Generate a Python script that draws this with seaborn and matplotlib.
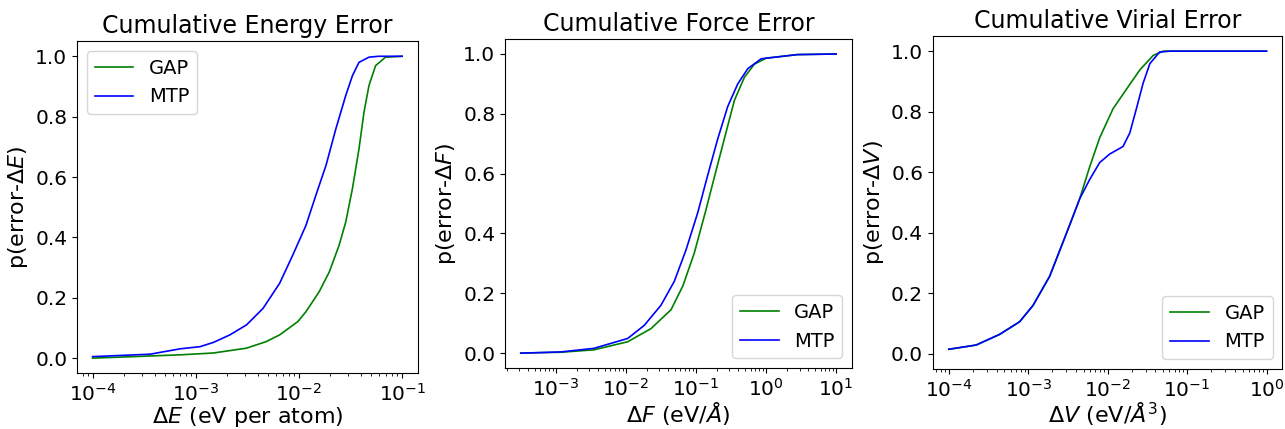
"""
cumulative error curves, GAP vs MTP (energy, force, virial)
"""

import numpy as np
import pandas as pd
import seaborn as sns
import matplotlib
matplotlib.use("Agg")
import matplotlib.pyplot as plt

# ---- energy (eV per atom)
e_gap_x = [1e-4, 2.5e-4, 7.1e-4, 1.48e-3, 3.1e-3, 4.83e-3, 6.5e-3, 9.75e-3, 1.17e-2,
           1.57e-2, 1.97e-2, 2.45e-2, 2.84e-2, 3.3e-2, 3.82e-2, 4.27e-2, 4.77e-2,
           5.53e-2, 6.9e-2, 1e-1]
e_gap_y = [0.0, 0.005, 0.011, 0.017, 0.033, 0.055, 0.077, 0.121, 0.154,
           0.22, 0.286, 0.374, 0.451, 0.562, 0.694, 0.815, 0.903,
           0.969, 0.997, 1.0]
e_mtp_x = [1e-4, 3.6e-4, 7.1e-4, 1.1e-3, 1.48e-3, 2.14e-3, 3.1e-3, 4.49e-3, 6.5e-3,
           8.7e-3, 1.17e-2, 1.46e-2, 1.83e-2, 2.28e-2, 2.84e-2, 3.3e-2, 3.82e-2,
           4.77e-2, 5.9e-2, 1e-1]
e_mtp_y = [0.005, 0.013, 0.031, 0.038, 0.052, 0.077, 0.11, 0.165, 0.248,
           0.341, 0.44, 0.54, 0.639, 0.76, 0.87, 0.936, 0.98,
           0.997, 1.0, 1.0]

# ---- force (eV/A)
f_gap_x = [3.16e-4, 1.18e-3, 3.5e-3, 1.06e-2, 2.28e-2, 4.4e-2, 6.5e-2, 9.46e-2, 0.139,
           0.193, 0.268, 0.353, 0.49, 0.68, 1.0, 2.8, 10.0]
f_gap_y = [0.0, 0.003, 0.011, 0.038, 0.082, 0.145, 0.225, 0.335, 0.48,
           0.61, 0.738, 0.845, 0.922, 0.966, 0.986, 0.998, 1.0]
f_mtp_x = [3.16e-4, 1.18e-3, 3.5e-3, 1.06e-2, 1.83e-2, 3.16e-2, 4.9e-2, 7.2e-2, 0.106,
           0.147, 0.204, 0.284, 0.394, 0.548, 0.85, 2.8, 10.0]
f_mtp_y = [0.0, 0.004, 0.016, 0.049, 0.093, 0.16, 0.24, 0.345, 0.47,
           0.595, 0.716, 0.825, 0.90, 0.951, 0.984, 0.998, 1.0]

# ---- virial (eV/A^3)
v_gap_x = [1e-4, 2.21e-4, 4.35e-4, 7.8e-4, 1.15e-3, 1.86e-3, 2.49e-3, 3.33e-3, 4.44e-3,
           5.94e-3, 7.94e-3, 1.17e-2, 1.72e-2, 2.54e-2, 3.74e-2, 5.0e-2, 7.3e-2, 1.0]
v_gap_y = [0.015, 0.029, 0.064, 0.106, 0.16, 0.256, 0.341, 0.426, 0.512,
           0.618, 0.714, 0.81, 0.874, 0.938, 0.986, 1.0, 1.0, 1.0]
v_mtp_x = [1e-4, 2.21e-4, 4.35e-4, 7.8e-4, 1.15e-3, 1.86e-3, 2.49e-3, 3.33e-3, 4.44e-3,
           5.94e-3, 7.94e-3, 1.06e-2, 1.56e-2, 1.9e-2, 2.3e-2, 2.8e-2, 3.4e-2, 4.5e-2,
           6.1e-2, 1.0]
v_mtp_y = [0.015, 0.029, 0.064, 0.106, 0.16, 0.256, 0.341, 0.426, 0.512,
           0.576, 0.632, 0.66, 0.685, 0.73, 0.81, 0.895, 0.959, 0.997,
           1.0, 1.0]

panels = [
    ("Cumulative Energy Error", r"$\Delta E$ (eV per atom)", r"p(error-$\Delta E$)",
     e_gap_x, e_gap_y, e_mtp_x, e_mtp_y, "upper left", [1e-4, 1e-3, 1e-2, 1e-1]),
    ("Cumulative Force Error", r"$\Delta F$ (eV/$\AA$)", r"p(error-$\Delta F$)",
     f_gap_x, f_gap_y, f_mtp_x, f_mtp_y, "lower right", [1e-3, 1e-2, 1e-1, 1e0, 1e1]),
    ("Cumulative Virial Error", r"$\Delta V$ (eV/$\AA^3$)", r"p(error-$\Delta V$)",
     v_gap_x, v_gap_y, v_mtp_x, v_mtp_y, "lower right", [1e-4, 1e-3, 1e-2, 1e-1, 1e0]),
]

# axes boxes in figure fraction (left, bottom, width, height)
boxes = [[0.060, 0.130, 0.265, 0.774],
         [0.393, 0.142, 0.270, 0.767],
         [0.726, 0.140, 0.272, 0.776]]

fig = plt.figure(figsize=(12.85, 4.29), dpi=100)

for (title, xl, yl, gx, gy, mx, my, loc, xt), box in zip(panels, boxes):
    ax = fig.add_axes(box)
    gap = pd.DataFrame({"x": gx, "y": gy})
    mtp = pd.DataFrame({"x": mx, "y": my})
    sns.lineplot(data=gap, x="x", y="y", color="green", label="GAP", lw=1.2, ax=ax)
    sns.lineplot(data=mtp, x="x", y="y", color="blue", label="MTP", lw=1.2, ax=ax)
    ax.set_xscale("log")
    ax.set_xticks(xt)
    ax.set_ylim(-0.05, 1.05)
    ax.set_yticks(np.arange(0, 1.01, 0.2))
    ax.set_title(title, fontsize=17)
    ax.set_xlabel(xl, fontsize=16, labelpad=0)
    ax.set_ylabel(yl, fontsize=16)
    ax.tick_params(labelsize=14.5)
    ax.legend(loc=loc, fontsize=14)

fig.savefig("out.png", dpi=100)
